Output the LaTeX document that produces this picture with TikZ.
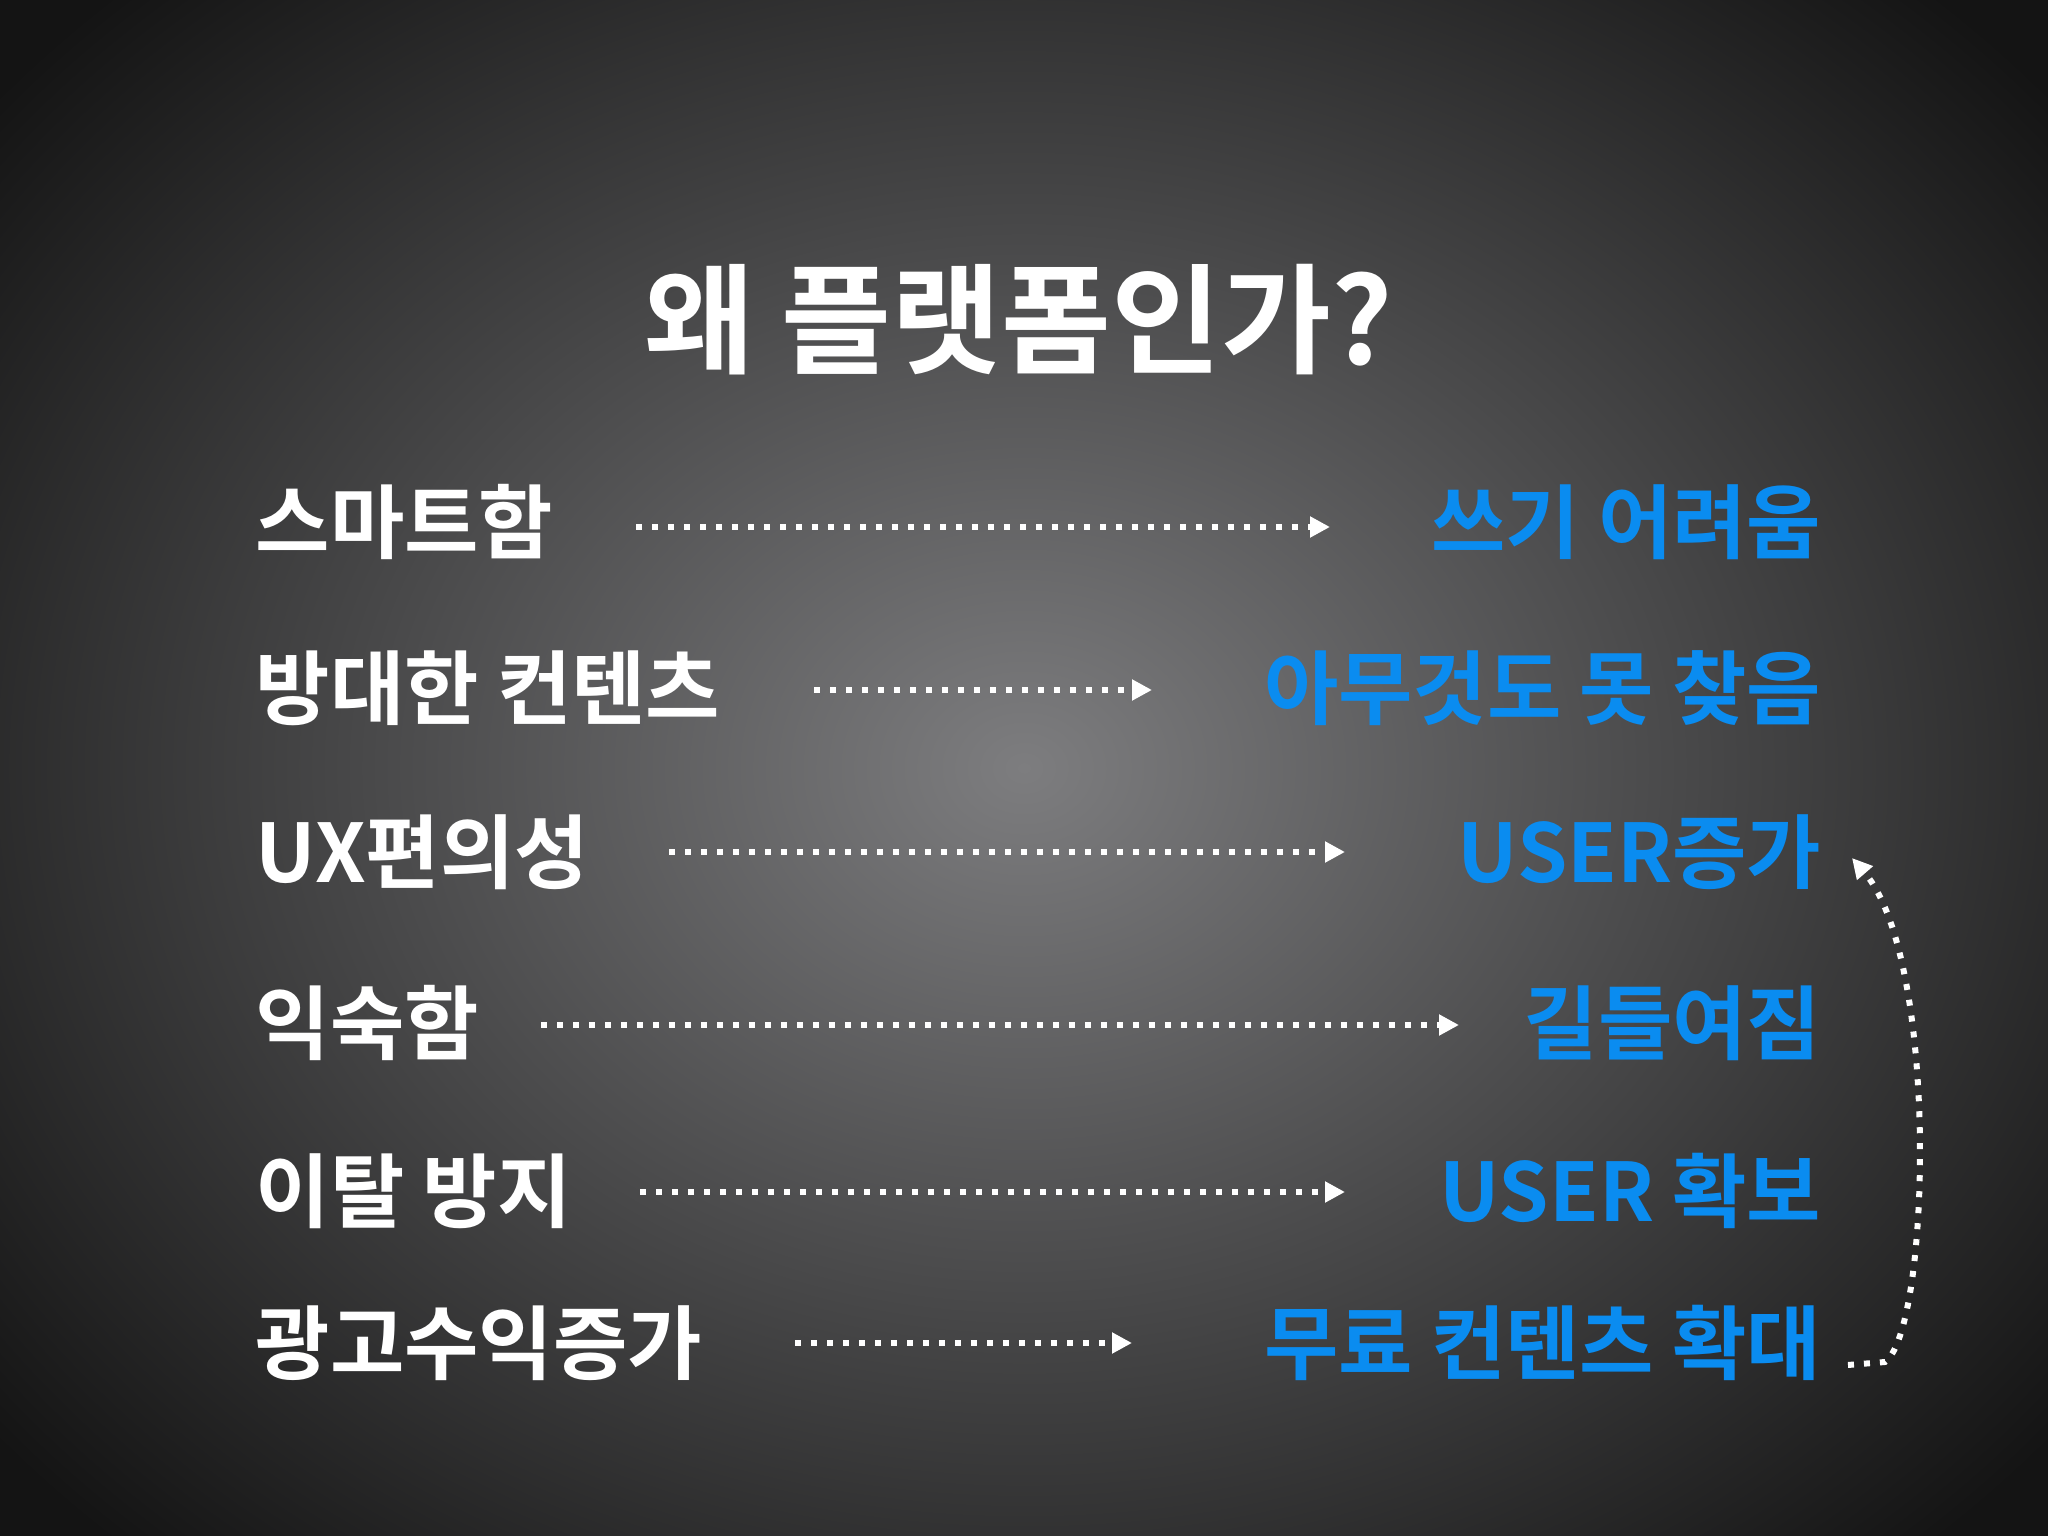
\documentclass[tikz,border=0pt]{standalone}
\usepackage{fontspec}
\setmainfont{Noto Sans CJK KR Bold}
\usetikzlibrary{arrows.meta}
\definecolor{kblue}{RGB}{10,140,240}
\tikzset{
 lt/.style={anchor=west,text=white,font=\fontsize{23}{26}\selectfont,inner sep=0pt},
 rt/.style={anchor=east,text=kblue,font=\fontsize{23}{26}\selectfont,inner sep=0pt},
 dots/.style={draw=white,line width=0.06cm,dash pattern=on 0.06cm off 0.1cm,-{Triangle[length=0.2cm,width=0.2cm,fill=white]}}
}
\begin{document}
\begin{tikzpicture}[x=1cm,y=1cm]
\useasboundingbox (0,0) rectangle (20.48,-15.36);
\shade[inner color={rgb,255:red,125;green,125;blue,127},outer color={rgb,255:red,20;green,20;blue,20}] (-3,3) rectangle (23.48,-18.36);
\fill[black,opacity=0] (0,0) rectangle (20.48,-15.36);
\node[text=white,font=\fontsize{34}{38}\selectfont,inner sep=0pt] (title) at (10.19,-3.2) {왜 플랫폼인가?};
\node[lt] (l1) at (2.55,-5.22) {스마트함};
\node[lt] (l2) at (2.55,-6.88) {방대한 컨텐츠};
\node[lt] (l3) at (2.55,-8.52) {UX편의성};
\node[lt] (l4) at (2.55,-10.23) {익숙함};
\node[lt] (l5) at (2.55,-11.91) {이탈 방지};
\node[lt] (l6) at (2.55,-13.43) {광고수익증가};
\node[rt] (r1) at (18.22,-5.22) {쓰기 어려움};
\node[rt] (r2) at (18.22,-6.88) {아무것도 못 찾음};
\node[rt] (r3) at (18.22,-8.52) {USER증가};
\node[rt] (r4) at (18.22,-10.23) {길들여짐};
\node[rt] (r5) at (18.22,-11.91) {USER 확보};
\node[rt] (r6) at (18.22,-13.43) {무료 컨텐츠 확대};
\coordinate (a1s) at (6.36,-5.27); \coordinate (a1e) at (13.30,-5.27);
\coordinate (a2s) at (8.14,-6.90); \coordinate (a2e) at (11.52,-6.90);
\coordinate (a3s) at (6.69,-8.52); \coordinate (a3e) at (13.45,-8.52);
\coordinate (a4s) at (5.41,-10.25); \coordinate (a4e) at (14.59,-10.25);
\coordinate (a5s) at (6.40,-11.92); \coordinate (a5e) at (13.45,-11.92);
\coordinate (a6s) at (7.95,-13.43); \coordinate (a6e) at (11.32,-13.43);
\draw[dots] (a1s) -- (a1e);
\draw[dots] (a2s) -- (a2e);
\draw[dots] (a3s) -- (a3e);
\draw[dots] (a4s) -- (a4e);
\draw[dots] (a5s) -- (a5e);
\draw[dots] (a6s) -- (a6e);
\coordinate (cs) at (18.48,-13.65);
\coordinate (ce) at (18.52,-8.58);
\draw[dots] (cs) -- (18.85,-13.62) .. controls (19.3,-13.3) and (19.4,-9.6) .. (ce);
\end{tikzpicture}
\end{document}
